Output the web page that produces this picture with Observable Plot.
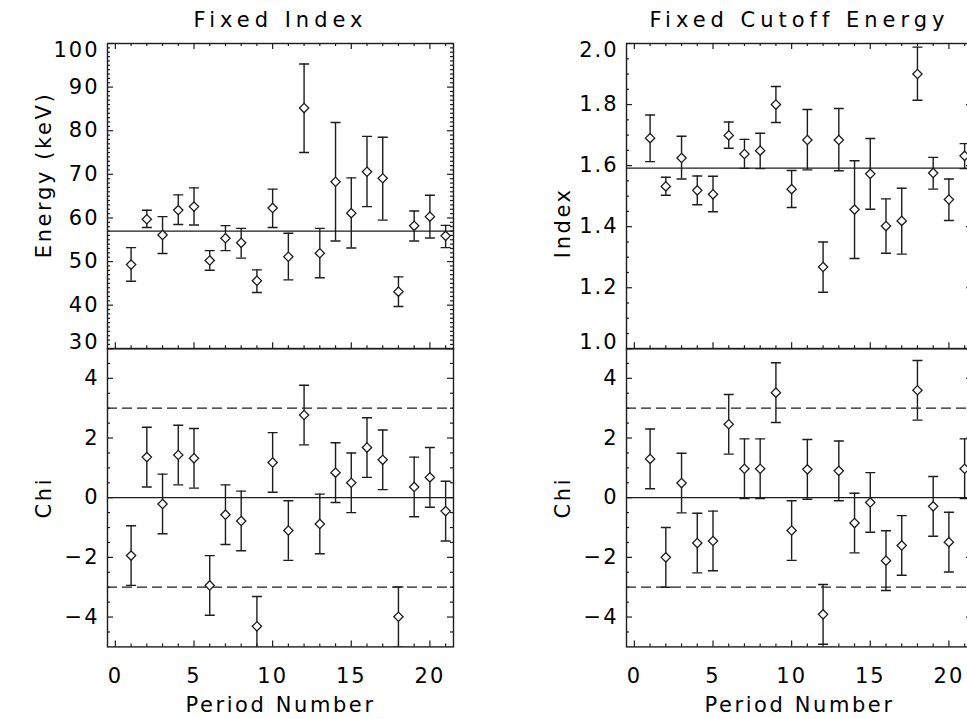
<!DOCTYPE html>
<html><head><meta charset="utf-8">
<script src="https://cdn.jsdelivr.net/npm/d3@7"></script>
<script src="https://cdn.jsdelivr.net/npm/@observablehq/plot@0.6"></script>
<style>
html,body{margin:0;padding:0;background:#fff;}
#fig{position:relative;width:967px;height:719px;overflow:hidden;background:#fff;}
#fig svg{position:absolute;overflow:visible;max-width:none;}
</style></head><body><div id="fig"></div>
<script>
// ---------- data ----------
const periods = [1,2,3,4,5,6,7,8,9,10,11,12,13,14,15,16,17,18,19,20,21];

// Fixed Index: cutoff energy (keV) with error bar ends
const energy   = [49.3,59.7,56.1,61.8,62.6,50.25,55.35,54.3,45.6,62.3,51.1,85.2,51.9,68.3,61.1,70.6,69.1,43.1,58.2,60.3,55.9];
const energyLo = [45.5,57.8,51.85,58.5,58.4,48.0,52.5,50.8,42.9,57.8,45.8,75.0,46.3,54.7,53.1,62.6,59.5,39.7,54.7,55.4,53.2];
const energyHi = [53.2,61.75,60.3,65.3,66.9,52.5,58.25,57.6,48.1,66.6,56.5,95.3,57.6,81.9,69.2,78.7,78.5,46.5,61.6,65.2,58.3];
const energyFit = 57;
const chiIndex = [-1.94,1.36,-0.21,1.43,1.32,-2.94,-0.57,-0.78,-4.31,1.18,-1.1,2.77,-0.88,0.84,0.5,1.68,1.27,-3.99,0.36,0.68,-0.45];

// Fixed Cutoff Energy: photon index with error bar ends
const index   = [1.69,1.532,1.625,1.519,1.506,1.699,1.638,1.649,1.80,1.523,1.684,1.268,1.684,1.456,1.573,1.402,1.419,1.90,1.576,1.489,1.632];
const indexLo = [1.613,1.503,1.556,1.472,1.449,1.657,1.591,1.590,1.741,1.463,1.586,1.185,1.583,1.296,1.457,1.313,1.310,1.814,1.523,1.42,1.590];
const indexHi = [1.766,1.562,1.696,1.566,1.565,1.743,1.686,1.706,1.859,1.584,1.784,1.35,1.787,1.616,1.689,1.491,1.526,1.988,1.627,1.556,1.672];
const indexFit = 1.592;
const chiCutoff = [1.30,-2.0,0.49,-1.52,-1.45,2.46,0.97,0.97,3.52,-1.1,0.95,-3.91,0.9,-0.85,-0.16,-2.11,-1.6,3.6,-0.29,-1.49,0.97];

const chiErr = 1;        // chi error bars are +/-1
const chiLimits = [-3, 3];

// axes / ticks
const xDomain = [-0.5, 21.5];
const xMajor = [0,5,10,15,20];
const xMinor = [1,2,3,4,6,7,8,9,11,12,13,14,16,17,18,19,21];
const energyDomain = [30, 100];
const energyMajor = [30,40,50,60,70,80,90,100];
const energyMinor = d3.range(31, 100, 1).filter(v => v % 10 !== 0);
const indexDomain = [1.0, 2.0];
const indexMajor = [1.0,1.2,1.4,1.6,1.8,2.0];
const indexMinor = [1.05,1.1,1.15,1.25,1.3,1.35,1.45,1.5,1.55,1.65,1.7,1.75,1.85,1.9,1.95];
const chiDomain = [-5, 5];
const chiMajor = [-4,-2,0,2,4];
const chiMinor = [-4.5,-3.5,-3,-2.5,-1.5,-1,-0.5,0.5,1,1.5,2.5,3,3.5,4.5];

const titles = ["Fixed Index", "Fixed Cutoff Energy"];
const topLabels = ["Energy (keV)", "Index"];
const chiLabel = "Chi";
const xLabel = "Period Number";

// ---------- layout ----------
const INK = "#1c1c1c";
const FW = 346;                 // frame width
const COLX = [107, 626];        // frame left edges
const TOPY = 43, MIDY = 348.3, BOTY = 646.7;
const ML = 110, MR = 20;
const FONT = "DejaVu Sans";
const FS = 21;

const fig = document.getElementById("fig");

const capSymbol = {draw(ctx, size) { const r = Math.sqrt(size / Math.PI); ctx.moveTo(-r, 0); ctx.lineTo(r, 0); }};

function fmtNum(v, dec) {
  return v.toFixed(dec).replace("-", "\u2212");
}

function panel({col, top, bottom, data, yDomain, yMajor, yMinor, dec, hLines = [], dashLines = [],
                yLabel, labelStart, title, xAxis, topXTicks}) {
  const innerH = bottom - top;
  const MT = 50, MB = 80;
  const marks = [];
  marks.push(Plot.ruleY(hLines, {y: d => d, stroke: INK, strokeWidth: 1.3}));
  marks.push(Plot.ruleY(dashLines, {y: d => d, stroke: INK, strokeWidth: 1.2, strokeDasharray: "10,5"}));
  marks.push(Plot.ruleX(data, {x: "x", y1: "lo", y2: "hi", stroke: INK, strokeWidth: 1.4, clip: true}));
  marks.push(Plot.dot(data, {x: "x", y: "lo", symbol: capSymbol, r: 5, stroke: INK, strokeWidth: 1.4, clip: true}));
  marks.push(Plot.dot(data, {x: "x", y: "hi", symbol: capSymbol, r: 5, stroke: INK, strokeWidth: 1.4, clip: true}));
  marks.push(Plot.dot(data, {x: "x", y: "v", symbol: "diamond2", r: 4.2, fill: "white", stroke: INK, strokeWidth: 1.3}));
  const tw = 1.2;
  marks.push(Plot.tickY(yMajor, {y: d => d, insetRight: FW - 6, stroke: INK, strokeWidth: tw}));
  marks.push(Plot.tickY(yMajor, {y: d => d, insetLeft: FW - 6, stroke: INK, strokeWidth: tw}));
  marks.push(Plot.tickY(yMinor, {y: d => d, insetRight: FW - 3, stroke: INK, strokeWidth: tw}));
  marks.push(Plot.tickY(yMinor, {y: d => d, insetLeft: FW - 3, stroke: INK, strokeWidth: tw}));
  marks.push(Plot.tickX(xMajor, {x: d => d, insetTop: innerH - 6, stroke: INK, strokeWidth: tw}));
  marks.push(Plot.tickX(xMinor, {x: d => d, insetTop: innerH - 3, stroke: INK, strokeWidth: tw}));
  if (topXTicks) {
    marks.push(Plot.tickX(xMajor, {x: d => d, insetBottom: innerH - 6, stroke: INK, strokeWidth: tw}));
    marks.push(Plot.tickX(xMinor, {x: d => d, insetBottom: innerH - 3, stroke: INK, strokeWidth: tw}));
  }
  marks.push(Plot.frame({stroke: INK, strokeWidth: 1.4}));
  const lo = yDomain[0], hi = yDomain[1];
  const common = {frameAnchor: "left", textAnchor: "end", dx: -8, fontSize: FS, fill: "black", text: d => fmtNum(d, dec)};
  if (!xAxis) {
    marks.push(Plot.text(yMajor.filter(v => v !== lo && v !== hi), {y: d => d, ...common}));
    marks.push(Plot.text([hi], {y: d => d, ...common, dy: 7}));
    marks.push(Plot.text([lo], {y: d => d, ...common, dy: -7}));
  } else {
    marks.push(Plot.text(yMajor, {y: d => d, ...common}));
  }
  // y-axis title: top-panel titles start at a fixed point below the panel centre, Chi is centred
  if (labelStart) {
    marks.push(Plot.text([yLabel], {frameAnchor: "left", textAnchor: "start", rotate: -90, dx: -63, dy: 62, lineAnchor: "middle", fontSize: FS, fill: "black", text: d => d}));
  } else {
    marks.push(Plot.text([yLabel], {frameAnchor: "left", textAnchor: "middle", rotate: -90, dx: -63, lineAnchor: "middle", fontSize: FS, fill: "black", text: d => d}));
  }
  if (title) {
    marks.push(Plot.text([title], {frameAnchor: "top", textAnchor: "middle", lineAnchor: "bottom", dy: -16, fontSize: FS, fill: "black", text: d => d}));
  }
  if (xAxis) {
    marks.push(Plot.text(xMajor, {x: d => d, frameAnchor: "bottom", lineAnchor: "top", dy: 21, fontSize: FS, fill: "black", text: d => String(d)}));
    marks.push(Plot.text([xLabel], {frameAnchor: "bottom", textAnchor: "middle", lineAnchor: "middle", dy: 58, fontSize: FS, fill: "black", text: d => d}));
  }
  const svg = Plot.plot({
    width: ML + FW + MR,
    height: MT + innerH + MB,
    marginLeft: ML, marginRight: MR, marginTop: MT, marginBottom: MB,
    x: {domain: xDomain, axis: null},
    y: {domain: yDomain, axis: null},
    style: {fontFamily: FONT, background: "transparent", overflow: "visible", color: "black"},
    marks
  });
  svg.style.left = (COLX[col] - ML) + "px";
  svg.style.top = (top - MT) + "px";
  svg.querySelectorAll("text").forEach(t => {
    const s = t.textContent;
    if (titles.includes(s)) t.setAttribute("letter-spacing", "5");
    else if (s === xLabel || topLabels.includes(s) || s === chiLabel) t.setAttribute("letter-spacing", "2.6");
    else t.setAttribute("letter-spacing", "2");
  });
  fig.appendChild(svg);
}

const mk = (vals, los, his) => periods.map((p, i) => ({x: p, v: vals[i], lo: los[i], hi: his[i]}));
const mkChi = vals => periods.map((p, i) => ({x: p, v: vals[i], lo: vals[i] - chiErr, hi: vals[i] + chiErr}));

panel({col: 0, top: TOPY, bottom: MIDY, data: mk(energy, energyLo, energyHi), yDomain: energyDomain,
  yMajor: energyMajor, yMinor: energyMinor, dec: 0, hLines: [energyFit], yLabel: topLabels[0], labelStart: true, title: titles[0], xAxis: false, topXTicks: true});
panel({col: 0, top: MIDY, bottom: BOTY, data: mkChi(chiIndex), yDomain: chiDomain,
  yMajor: chiMajor, yMinor: chiMinor, dec: 0, hLines: [0], dashLines: chiLimits, yLabel: chiLabel, xAxis: true, topXTicks: false});
panel({col: 1, top: TOPY, bottom: MIDY, data: mk(index, indexLo, indexHi), yDomain: indexDomain,
  yMajor: indexMajor, yMinor: indexMinor, dec: 1, hLines: [indexFit], yLabel: topLabels[1], labelStart: true, title: titles[1], xAxis: false, topXTicks: true});
panel({col: 1, top: MIDY, bottom: BOTY, data: mkChi(chiCutoff), yDomain: chiDomain,
  yMajor: chiMajor, yMinor: chiMinor, dec: 0, hLines: [0], dashLines: chiLimits, yLabel: chiLabel, xAxis: true, topXTicks: false});
</script></body></html>
